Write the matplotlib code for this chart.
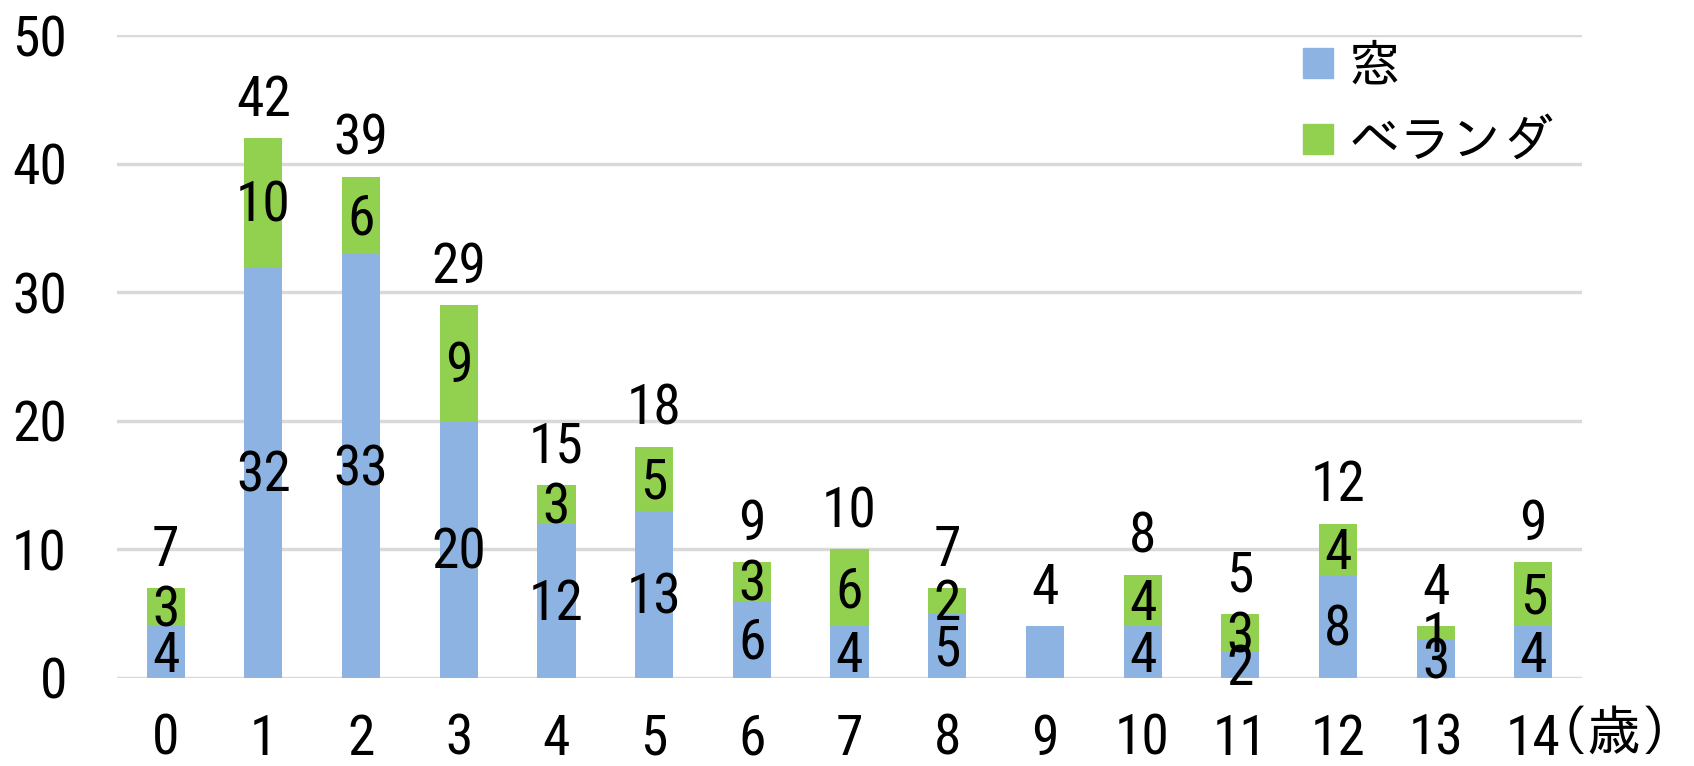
import matplotlib.pyplot as plt
from matplotlib.lines import Line2D

plt.rcParams['font.family'] = ['Roboto Condensed', 'IPAGothic', 'Noto Sans CJK JP', 'DejaVu Sans']

ages = ['0', '1', '2', '3', '4', '5', '6', '7', '8', '9', '10', '11', '12', '13', '14']
window = [4, 32, 33, 20, 12, 13, 6, 4, 5, 4, 4, 2, 8, 3, 4]
veranda = [3, 10, 6, 9, 3, 5, 3, 6, 2, 0, 4, 3, 4, 1, 5]
totals = [w + v for w, v in zip(window, veranda)]

blue = '#8DB3E2'
green = '#92D050'
fs = 40
xpad = 25

fig = plt.figure(figsize=(16.94, 7.66), dpi=100)
ax = fig.add_axes([0.069, 0.115, 0.865, 0.839])

x = list(range(len(ages)))
ax.bar(x, window, width=0.39, color=blue, zorder=2)
ax.bar(x, veranda, width=0.39, bottom=window, color=green, zorder=2)

# values inside each segment, total on top of the stack
for i in x:
    if veranda[i] > 0:
        ax.annotate(str(window[i]), (i, window[i] / 2), xytext=(0, -14),
                    textcoords='offset points', ha='center', va='baseline',
                    fontsize=fs, zorder=3)
        ax.annotate(str(veranda[i]), (i, window[i] + veranda[i] / 2),
                    xytext=(0, -14), textcoords='offset points', ha='center',
                    va='baseline', fontsize=fs, zorder=3)
    ax.annotate(str(totals[i]), (i, totals[i]), xytext=(0, 16),
                textcoords='offset points', ha='center', va='baseline',
                fontsize=fs, zorder=3)

ax.set_ylim(0, 50)
ax.set_xlim(-0.5, len(ages) - 0.5)
ax.set_yticks([0, 10, 20, 30, 40, 50])
ax.set_xticks(x)
ax.set_xticklabels(ages)
ax.tick_params(axis='both', length=0, labelsize=fs)
ax.tick_params(axis='y', pad=36)
ax.tick_params(axis='x', pad=xpad)
ax.yaxis.grid(True, color='#D9D9D9', linewidth=2.5, zorder=0)
ax.set_axisbelow(True)
for s in ax.spines.values():
    s.set_visible(False)

# unit after the last age label
ax.annotate('（歳）', (14.0, 0), xycoords=('data', 'axes fraction'),
            xytext=(0, -xpad + 2), textcoords='offset points',
            ha='left', va='top', fontsize=39, annotation_clip=False)

handles = [Line2D([], [], marker='s', linestyle='none', markersize=21,
                  markerfacecolor=blue, markeredgecolor=blue),
           Line2D([], [], marker='s', linestyle='none', markersize=21,
                  markerfacecolor=green, markeredgecolor=green)]
ax.legend(handles, ['窓', 'ベランダ'], loc='upper left',
          bbox_to_anchor=(0.769, 0.945), bbox_transform=fig.transFigure,
          frameon=False, fontsize=37, handlelength=0.6, handletextpad=0.3,
          labelspacing=0.5, borderpad=0, borderaxespad=0)

fig.savefig('out.png', dpi=100)
